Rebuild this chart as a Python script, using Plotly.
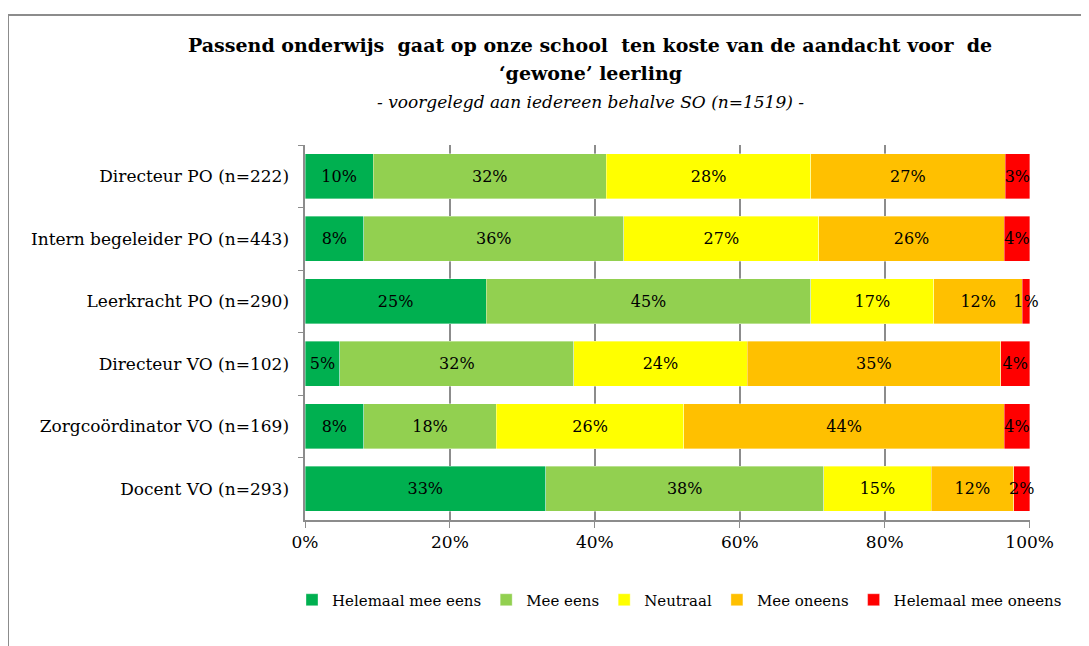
import plotly.graph_objects as go

# categories (top to bottom)
groups = [
    "Directeur PO (n=222)",
    "Intern begeleider PO (n=443)",
    "Leerkracht PO (n=290)",
    "Directeur VO (n=102)",
    "Zorgcoördinator VO (n=169)",
    "Docent VO (n=293)",
]

answers = ["Helemaal mee eens", "Mee eens", "Neutraal", "Mee oneens", "Helemaal mee oneens"]
colors = ["#00B050", "#92D050", "#FFFF00", "#FFC000", "#FF0000"]

# shares in percent
helemaal_eens = [9.4, 8.1, 25.0, 4.8, 8.1, 33.2]
eens = [32.2, 35.9, 44.8, 32.3, 18.3, 38.4]
neutraal = [28.2, 26.9, 17.0, 23.9, 25.9, 14.8]
oneens = [26.8, 25.6, 12.2, 35.0, 44.2, 11.4]
helemaal_oneens = [3.4, 3.5, 1.0, 4.0, 3.5, 2.2]

# labels shown in the bars
lbl_helemaal_eens = ["10%", "8%", "25%", "5%", "8%", "33%"]
lbl_eens = ["32%", "36%", "45%", "32%", "18%", "38%"]
lbl_neutraal = ["28%", "27%", "17%", "24%", "26%", "15%"]
lbl_oneens = ["27%", "26%", "12%", "35%", "44%", "12%"]
lbl_helemaal_oneens = ["3%", "4%", "1%", "4%", "4%", "2%"]

series = [helemaal_eens, eens, neutraal, oneens, helemaal_oneens]
labels = [lbl_helemaal_eens, lbl_eens, lbl_neutraal, lbl_oneens, lbl_helemaal_oneens]

FONT = "DejaVu Serif"

fig = go.Figure()
for name, vals, txt, col in zip(answers, series, labels, colors):
    fig.add_trace(go.Bar(
        y=groups, x=vals, name=name, orientation="h",
        marker=dict(color=col, line=dict(color="rgba(255,255,255,0.6)", width=0.6)),
        text=txt, textposition="inside", insidetextanchor="middle", textangle=0,
        constraintext="none",
        textfont=dict(family=FONT, size=16, color="black"), cliponaxis=False,
        hoverinfo="skip",
    ))

# the page body adds an 8px offset, so positions below are page px minus 8
OFF = 8
W, H = 1081, 638
L, T = 305 - OFF, 145 - OFF
pw = 725
ph = 375
R = W - L - pw
B = H - T - ph

def px_x(x):
    return (x - OFF - L) / pw

def px_y(y):
    return 1 - (y - OFF - T) / ph

fig.update_layout(
    width=W, height=H,
    barmode="stack", bargap=0.28,
    margin=dict(l=L, r=R, t=T, b=B, autoexpand=False),
    plot_bgcolor="white", paper_bgcolor="white",
    font=dict(family=FONT, size=16, color="black"),
    uniformtext=dict(minsize=16, mode="show"),
    showlegend=True,
    legend=dict(orientation="h", x=px_x(292), y=px_y(600), xanchor="left", yanchor="middle",
                font=dict(family=FONT, size=15), itemwidth=30,
                traceorder="normal"),
    xaxis=dict(range=[0, 100.05], tickvals=[0, 20, 40, 60, 80, 100],
               ticktext=["0%", "20%", "40%", "60%", "80%", "100%"],
               showgrid=True, gridcolor="#8c8c8c", gridwidth=1.5,
               showline=True, linecolor="#8c8c8c", linewidth=1.5,
               ticks="outside", ticklen=6, tickcolor="#8c8c8c",
               zeroline=False, tickfont=dict(family=FONT, size=17), automargin=False),
    yaxis=dict(autorange="reversed", showline=True, linecolor="#8c8c8c", linewidth=1.5,
               ticks="outside", ticklen=5, tickcolor="#8c8c8c", tickson="boundaries",
               ticksuffix="  ", tickfont=dict(family=FONT, size=17), automargin=False),
    annotations=[
        dict(text="<b>Passend onderwijs  gaat op onze school  ten koste van de aandacht voor  de</b>",
             x=px_x(590), y=px_y(45), xref="paper", yref="paper", showarrow=False,
             font=dict(family=FONT, size=19), xanchor="center", yanchor="middle"),
        dict(text="<b>‘gewone’ leerling</b>",
             x=px_x(590), y=px_y(73), xref="paper", yref="paper", showarrow=False,
             font=dict(family=FONT, size=19), xanchor="center", yanchor="middle"),
        dict(text="<i>- voorgelegd aan iedereen behalve SO (n=1519) -</i>",
             x=px_x(590), y=px_y(102), xref="paper", yref="paper", showarrow=False,
             font=dict(family=FONT, size=17), xanchor="center", yanchor="middle"),
    ],
    shapes=[
        dict(type="rect", xref="paper", yref="paper",
             x0=px_x(8), x1=px_x(1100), y0=px_y(660), y1=px_y(15),
             line=dict(color="#8c8c8c", width=2), fillcolor="rgba(0,0,0,0)"),
    ],
)

fig.write_html("out.html")
